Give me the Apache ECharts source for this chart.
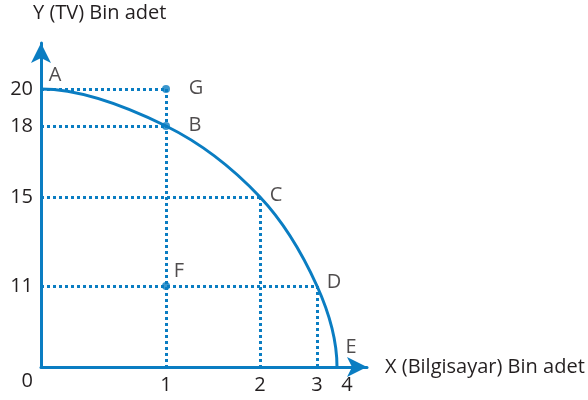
<!DOCTYPE html>
<html>
<head>
<meta charset="utf-8">
<script src="https://cdn.jsdelivr.net/npm/echarts@6/dist/echarts.min.js"></script>
<style>
  html, body { margin: 0; padding: 0; background: #fff; }
  #chart { width: 588px; height: 400px; }
</style>
</head>
<body>
<div id="chart"></div>
<script>
// tick values shown on the axes
const xTicks = [0, 1, 2, 3, 4]
const yTicks = [0, 11, 15, 18, 20]

// points of the drawing
const pointNames = ['A', 'B', 'C', 'D', 'E', 'F', 'G']
const pointX = [0, 1, 2, 3, 4, 1, 1]
const pointY = [20, 18, 15, 11, 0, 11, 20]

const curveNames = ['A', 'B', 'C', 'D', 'E'] // production frontier
const dotNames = ['B', 'F', 'G']
const hGuideNames = ['G', 'B', 'C', 'D'] // dotted line from y axis to point
const vGuideNames = ['G', 'C', 'D'] // dotted line from point down to x axis

// the axes in the original are not drawn to scale: where each tick sits along its axis
const xTickPos = [0, 125, 219, 276, 296]
const yTickPos = [0, 81, 170, 241, 278]
const labelOffset = { A: [14, -14], B: [29, -1], C: [16, -2], D: [17, -4], E: [14, -20], F: [13, -15], G: [30, -1] }

const blue = '#0a7dc2'
const ink = '#231f20'
const font = 'Open Sans'
const fs = 20

const scale = (v, ticks, pos) => {
  for (let i = 1; i < ticks.length; i++) {
    if (v <= ticks[i]) {
      const t = (v - ticks[i - 1]) / (ticks[i] - ticks[i - 1])
      return pos[i - 1] + t * (pos[i] - pos[i - 1])
    }
  }
  return pos[pos.length - 1]
}
const px = (v) => scale(v, xTicks, xTickPos)
const py = (v) => scale(v, yTicks, yTickPos)
const pt = (name) => {
  const i = pointNames.indexOf(name)
  return [px(pointX[i]), py(pointY[i])]
}

const guides = []
hGuideNames.forEach((n) => {
  const p = pt(n)
  guides.push({ coords: [[0, p[1]], p] })
})
vGuideNames.forEach((n) => {
  const p = pt(n)
  guides.push({ coords: [p, [p[0], 0]] })
})

const curveData = curveNames.map(pt)

// smooth spline through the frontier points, flat where it leaves the y axis
// and upright where it meets the x axis
function renderCurve(params, api) {
  if (params.dataIndex !== 0) return null
  const P = curveData.map((d) => api.coord(d))
  const n = P.length
  const T = P.map((p, i) => {
    if (i === 0) return [P[1][0] - P[0][0], 0]
    if (i === n - 1) return [0, P[n - 1][1] - P[n - 2][1]]
    return [(P[i + 1][0] - P[i - 1][0]) / 2, (P[i + 1][1] - P[i - 1][1]) / 2]
  })
  let d = 'M' + P[0][0] + ' ' + P[0][1]
  for (let i = 0; i < n - 1; i++) {
    const c1 = [P[i][0] + T[i][0] / 3, P[i][1] + T[i][1] / 3]
    const c2 = [P[i + 1][0] - T[i + 1][0] / 3, P[i + 1][1] - T[i + 1][1] / 3]
    d += ' C' + c1.join(' ') + ' ' + c2.join(' ') + ' ' + P[i + 1].join(' ')
  }
  return {
    type: 'path',
    shape: { pathData: d },
    style: { stroke: blue, lineWidth: 3, fill: null },
  }
}

const chart = echarts.init(document.getElementById('chart'))

const option = {
  animation: false,
  title: {
    text: 'Y (TV) Bin adet',
    left: 33,
    top: 3,
    padding: 0,
    textStyle: { fontFamily: font, fontSize: fs, fontWeight: 'normal', color: ink },
  },
  grid: { left: 41, top: 43, width: 326, height: 324 },
  xAxis: {
    type: 'value',
    min: 0,
    max: 326,
    name: 'X (Bilgisayar) Bin adet',
    nameLocation: 'end',
    nameGap: 18,
    nameTextStyle: { fontFamily: font, fontSize: fs, color: ink },
    axisLine: { show: true, symbol: ['none', 'arrow'], symbolSize: [15, 20], lineStyle: { color: blue, width: 3 } },
    axisTick: { show: false },
    splitLine: { show: false },
    axisLabel: {
      customValues: xTickPos.slice(1),
      margin: 8,
      fontFamily: font,
      fontSize: fs,
      color: ink,
      formatter: (v) => {
        const i = xTickPos.indexOf(v)
        const t = String(xTicks[i])
        return i === xTicks.length - 1 ? '{r|' + t + '}' : t
      },
      rich: { r: { fontFamily: font, fontSize: fs, color: ink, padding: [0, 0, 0, 20] } },
    },
  },
  yAxis: {
    type: 'value',
    min: 0,
    max: 324,
    axisLine: { show: true, symbol: ['none', 'arrow'], symbolSize: [15, 20], lineStyle: { color: blue, width: 3 } },
    axisTick: { show: false },
    splitLine: { show: false },
    axisLabel: {
      customValues: yTickPos,
      margin: 8,
      fontFamily: font,
      fontSize: fs,
      color: ink,
      formatter: (v) => {
        const i = yTickPos.indexOf(v)
        const t = String(yTicks[i])
        return i === 0 ? '{z|' + t + '}' : t
      },
      rich: { z: { fontFamily: font, fontSize: fs, color: ink, padding: [28, 0, 0, 0] } },
    },
  },
  series: [
    {
      type: 'lines',
      coordinateSystem: 'cartesian2d',
      silent: true,
      lineStyle: { color: blue, width: 3, type: [3, 3], opacity: 1 },
      data: guides,
      z: 1,
    },
    {
      type: 'custom',
      renderItem: renderCurve,
      data: curveData,
      silent: true,
      z: 2,
    },
    {
      type: 'scatter',
      symbolSize: 8,
      itemStyle: { color: blue },
      data: dotNames.map(pt),
      z: 3,
    },
    {
      type: 'scatter',
      symbolSize: 1,
      itemStyle: { color: 'transparent' },
      data: pointNames.map((n) => ({
        name: n,
        value: pt(n),
        label: { offset: labelOffset[n] },
      })),
      label: {
        show: true,
        position: 'inside',
        formatter: '{b}',
        fontFamily: font,
        fontSize: fs,
        color: ink,
      },
      z: 4,
    },
  ],
}

chart.setOption(option)
</script>
</body>
</html>
